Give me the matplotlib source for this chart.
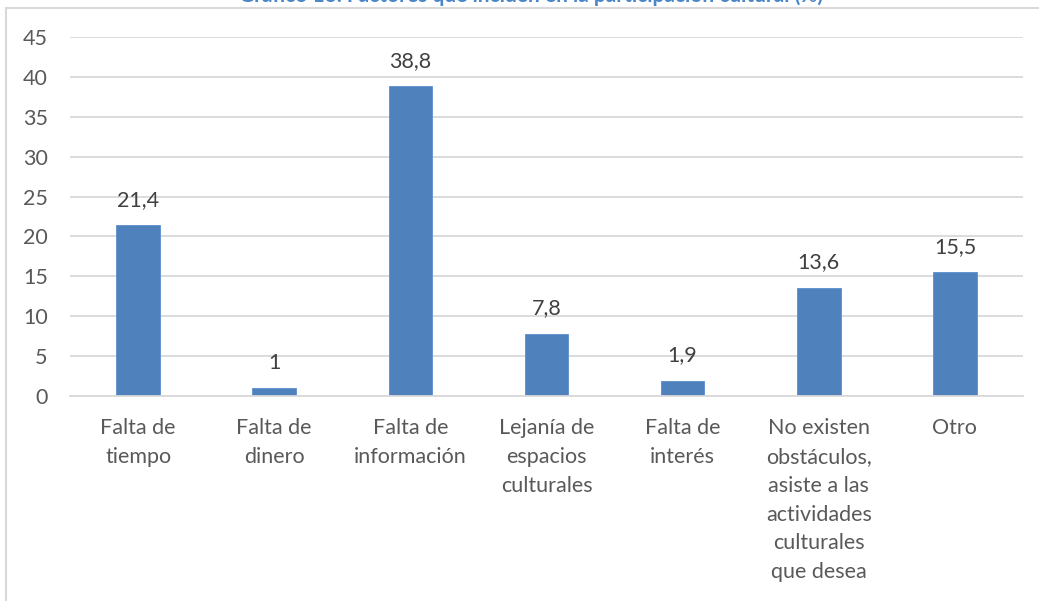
import matplotlib.pyplot as plt
import numpy as np
from matplotlib.patches import Rectangle

categories = [
    'Falta de\ntiempo',
    'Falta de\ndinero',
    'Falta de\ninformación',
    'Lejanía de\nespacios\nculturales',
    'Falta de\ninterés',
    'No existen\nobstáculos,\nasiste a las\nactividades\nculturales\nque desea',
    'Otro',
]
values = [21.4, 1, 38.8, 7.8, 1.9, 13.6, 15.5]
labels = ['21,4', '1', '38,8', '7,8', '1,9', '13,6', '15,5']
title = 'Gráfico 13. Factores que inciden en la participación cultural (%)'

W, H = 1039, 601
plt.rcParams['font.family'] = ['Lato', 'DejaVu Sans']

fig = plt.figure(figsize=(W / 100, H / 100), dpi=100)
ax = fig.add_axes([70 / W, 1 - 396 / H, (1023 - 70) / W, (396 - 37) / H])

x = np.arange(len(categories))
ax.bar(x, values, width=0.32, color='#4f81bd', edgecolor='#5b8fcc', linewidth=0.6, zorder=3)
for xi, v, lab in zip(x, values, labels):
    ax.annotate(lab, (xi, v), xytext=(0, 11), textcoords='offset points',
                ha='center', va='bottom', fontsize=15.5, color='#404040')

ax.set_xlim(-0.5, len(categories) - 0.5)
ax.set_ylim(0, 45)
ax.set_yticks(np.arange(0, 46, 5))
ax.yaxis.grid(True, color='#d9d9d9', linewidth=1.3, zorder=0)
for s in ['top', 'right', 'left']:
    ax.spines[s].set_visible(False)
ax.spines['bottom'].set_color('#d9d9d9')
ax.spines['bottom'].set_linewidth(1.3)
ax.spines['bottom'].set_zorder(4)
ax.set_xticks(x)
ax.set_xticklabels(categories, fontsize=15.5, color='#595959', linespacing=1.55, va='top')
ax.tick_params(axis='x', length=0, pad=16)
ax.tick_params(axis='y', length=0, pad=16, labelsize=15.5, labelcolor='#595959')

# outer chart frame (partly outside the picture)
fig.patches.append(Rectangle((6 / W, -0.1), 1.2, 1 - 8 / H + 0.1, transform=fig.transFigure,
                             fill=False, edgecolor='#d9d9d9', linewidth=1.5))
fig.text(531 / W, 1 + 4 / H, title, ha='center', va='center', fontsize=15,
         fontweight='bold', color='#4a86c8')

fig.savefig('out.png', dpi=100)
